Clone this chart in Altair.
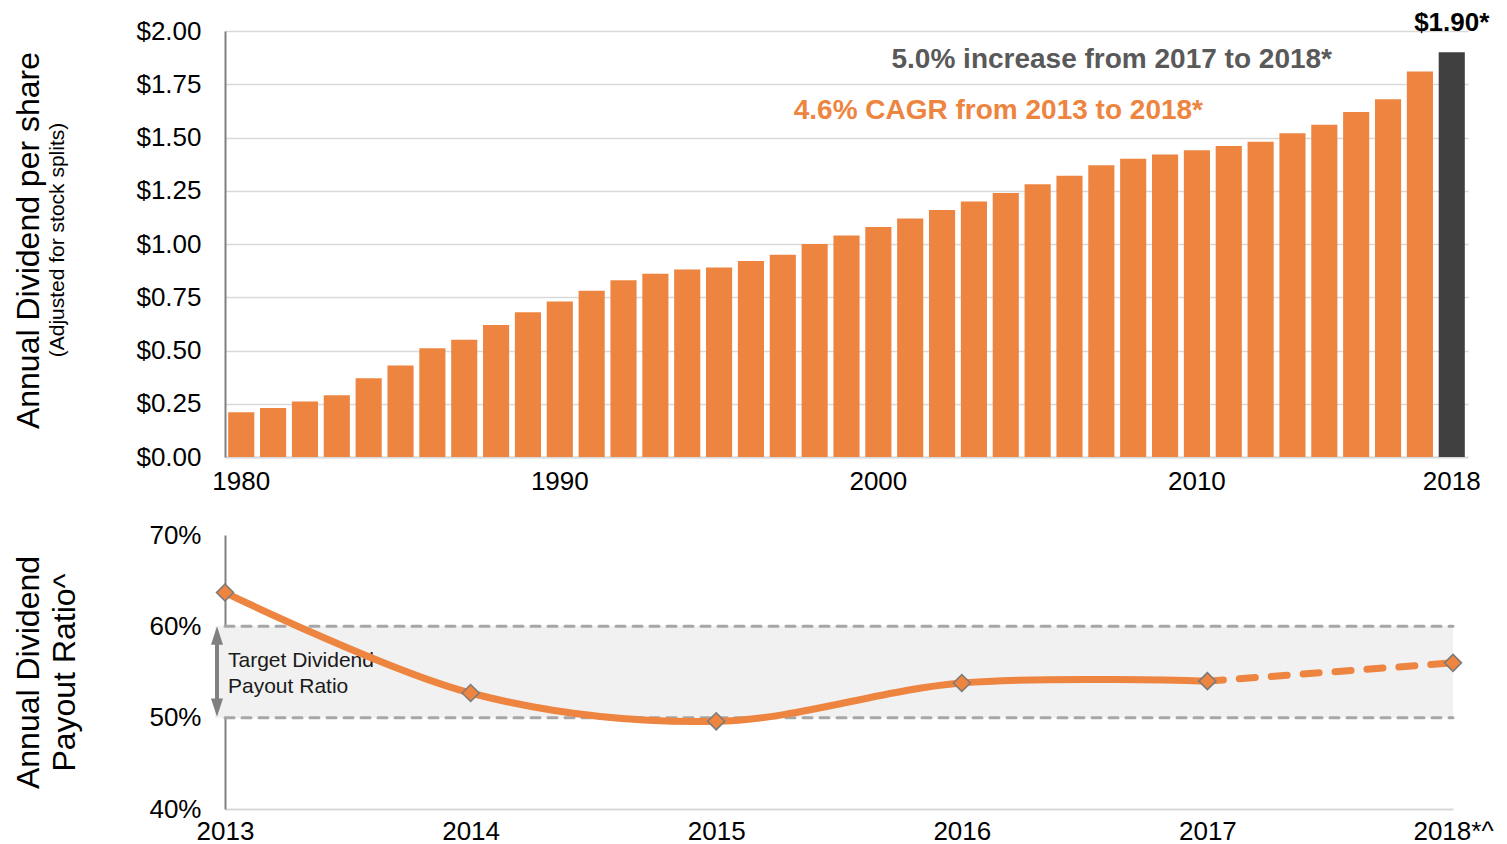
import altair as alt
import pandas as pd

FONT = "Liberation Sans"
ORANGE = "#ED8440"
DARK = "#404040"

# ---- data: annual dividend per share ----
years = list(range(1980, 2019))
dividends = [0.21, 0.23, 0.26, 0.29, 0.37, 0.43, 0.51, 0.55, 0.62, 0.68,
             0.73, 0.78, 0.83, 0.86, 0.88, 0.89, 0.92, 0.95, 1.00, 1.04,
             1.08, 1.12, 1.16, 1.20, 1.24, 1.28, 1.32, 1.37, 1.40, 1.42,
             1.44, 1.46, 1.48, 1.52, 1.56, 1.62, 1.68, 1.81, 1.90]
x_tick_years = [1980, 1990, 2000, 2010, 2018]
y_ticks_top = [0, 0.25, 0.5, 0.75, 1.0, 1.25, 1.5, 1.75, 2.0]

# ---- data: payout ratio ----
payout_years = [2013, 2014, 2015, 2016, 2017, 2018]
payout_ratio = [0.637, 0.527, 0.496, 0.538, 0.540, 0.560]
target_low = 0.50
target_high = 0.60
y_ticks_bottom = [0.4, 0.5, 0.6, 0.7]

top_df = pd.DataFrame({"year": years, "value": dividends})
pay_df = pd.DataFrame({"year": payout_years, "ratio": payout_ratio})
solid_df = pay_df[pay_df.year <= 2017]
dash_df = pay_df[pay_df.year >= 2017]

# ================= TOP CHART =================
xs = alt.X("year:O",
           scale=alt.Scale(paddingInner=0.18, paddingOuter=0.1),
           axis=alt.Axis(values=x_tick_years, labelAngle=0, ticks=False,
                         domainColor="#d9d9d9", domainWidth=2,
                         labelFontSize=26, labelPadding=11, labelColor="#000000",
                         labelFont=FONT, title=None))
ys = alt.Y("value:Q",
           scale=alt.Scale(domain=[0, 2], nice=False),
           axis=alt.Axis(values=y_ticks_top, format="$.2f", grid=True,
                         gridColor="#d9d9d9", gridWidth=1.5,
                         domainColor="#808080", domainWidth=2, ticks=False,
                         labelFontSize=26, labelPadding=24, labelColor="#000000",
                         labelFont=FONT,
                         title="Annual Dividend per share", titleFontSize=32,
                         titleFontWeight="normal", titleFont=FONT, titleColor="#000000",
                         titleX=-197, titleY=209, titleAngle=270,
                         titleAlign="center", titleBaseline="middle"))

bars = alt.Chart(top_df).mark_bar().encode(
    x=xs, y=ys,
    color=alt.condition(alt.datum.year == 2018, alt.value(DARK), alt.value(ORANGE)),
)

last_df = top_df[top_df.year == 2018].assign(label="$1.90*")
last_label = alt.Chart(last_df).mark_text(
    font=FONT, fontSize=26, fontWeight="bold", color="#000000", dy=-29,
    baseline="middle", align="center"
).encode(x="year:O", y="value:Q", text="label:N")

ann_df = pd.DataFrame({
    "text": ["5.0% increase from 2017 to 2018*", "4.6% CAGR from 2013 to 2018*"],
    "yv": [1.862, 1.624],
})
ann1 = alt.Chart(ann_df.iloc[[0]]).mark_text(
    font=FONT, fontSize=28, fontWeight="bold", color="#595959",
    align="right", baseline="middle"
).encode(x=alt.value(1107), y="yv:Q", text="text:N")
ann2 = alt.Chart(ann_df.iloc[[1]]).mark_text(
    font=FONT, fontSize=28, fontWeight="bold", color=ORANGE,
    align="right", baseline="middle"
).encode(x=alt.value(978), y="yv:Q", text="text:N")

sub_df = pd.DataFrame({"t": ["(Adjusted for stock splits)"]})
subtitle = alt.Chart(sub_df).mark_text(
    font=FONT, fontSize=21, color="#000000", angle=270,
    align="center", baseline="middle"
).encode(x=alt.value(-167), y=alt.value(209), text="t:N")

top = alt.layer(bars, last_label, ann1, ann2, subtitle).properties(width=1243, height=426)

# ================= BOTTOM CHART =================
bx = alt.X("year:Q",
           scale=alt.Scale(domain=[2013, 2018], nice=False, zero=False),
           axis=alt.Axis(values=payout_years, ticks=False, grid=False,
                         domainColor="#d9d9d9", domainWidth=2,
                         labelFontSize=26, labelPadding=9, labelColor="#000000",
                         labelFont=FONT, labelFlush=False, labelOverlap=False,
                         labelExpr="datum.value == 2018 ? '2018*^' : toString(datum.value)",
                         title=None))
by = alt.Y("ratio:Q",
           scale=alt.Scale(domain=[0.4, 0.7], nice=False, zero=False),
           axis=alt.Axis(values=y_ticks_bottom, format=".0%", grid=False,
                         domainColor="#808080", domainWidth=2, ticks=False,
                         labelFontSize=26, labelPadding=24, labelColor="#000000",
                         labelFont=FONT,
                         title=["Annual Dividend", "Payout Ratio^"], titleFontSize=32,
                         titleFontWeight="normal", titleFont=FONT, titleColor="#000000",
                         titleX=-197, titleY=137, titleAngle=270, titleLineHeight=36,
                         titleAlign="center", titleBaseline="middle"))

band_df = pd.DataFrame({"x": [2013], "x2": [2018], "lo": [target_low], "hi": [target_high]})
band = alt.Chart(band_df).mark_rect(color="#f1f1f1", xOffset=-10, x2Offset=0).encode(
    x=alt.X("x:Q", scale=alt.Scale(domain=[2013, 2018])), x2="x2:Q",
    y=alt.Y("lo:Q"), y2="hi:Q")

lim_df = pd.DataFrame({"x": [2013, 2013], "x2": [2018, 2018], "v": [target_low, target_high]})
limits = alt.Chart(lim_df).mark_rule(color="#a6a6a6", strokeWidth=3,
                                     strokeDash=[9, 8], strokeCap="round").encode(
    x="x:Q", x2="x2:Q", y="v:Q")

arrow_df = pd.DataFrame({"a": [0.585], "b": [0.515]})
arrow_shaft = alt.Chart(arrow_df).mark_rule(color="#808080", strokeWidth=4).encode(
    x=alt.value(-8), y="a:Q", y2="b:Q")
head_df = pd.DataFrame({"v": [0.590], "dir": ["up"]})
head_df2 = pd.DataFrame({"v": [0.511], "dir": ["down"]})
head_up = alt.Chart(head_df).mark_point(
    shape="M-0.65,1L0,-1L0.65,1Z", filled=True, color="#808080", size=340, opacity=1
).encode(x=alt.value(-8), y="v:Q")
head_down = alt.Chart(head_df2).mark_point(
    shape="M-0.65,-1L0,1L0.65,-1Z", filled=True, color="#808080", size=340, opacity=1
).encode(x=alt.value(-8), y="v:Q")

label_df = pd.DataFrame({"x": [2013], "v": [0.562], "t": ["Target Dividend\nPayout Ratio"]})
target_label = alt.Chart(label_df).mark_text(
    font=FONT, fontSize=21, color="#1a1a1a", align="left", baseline="middle",
    lineBreak="\n", lineHeight=26, dx=3
).encode(x="x:Q", y="v:Q", text="t:N")

solid_line = alt.Chart(solid_df).mark_line(
    color=ORANGE, strokeWidth=7, interpolate="cardinal"
).encode(x=bx, y=by)
dash_line = alt.Chart(dash_df).mark_line(
    color=ORANGE, strokeWidth=7, strokeDash=[16, 16], strokeCap="round"
).encode(x="year:Q", y="ratio:Q")
points = alt.Chart(pay_df).mark_point(
    shape="diamond", filled=True, fill=ORANGE, stroke="#7a7a7a", strokeWidth=1.5,
    size=290, opacity=1
).encode(x="year:Q", y="ratio:Q")

bottom = alt.layer(band, limits, target_label, solid_line, dash_line, points,
                   arrow_shaft, head_up, head_down).properties(width=1228, height=274)

chart = alt.vconcat(top, bottom, spacing=28).properties(
    padding={"left": 4, "top": 2, "right": 5, "bottom": 2}
).configure(font=FONT).configure_view(stroke=None)

chart.save("out.html", embed_options={"renderer": "svg", "actions": False})
